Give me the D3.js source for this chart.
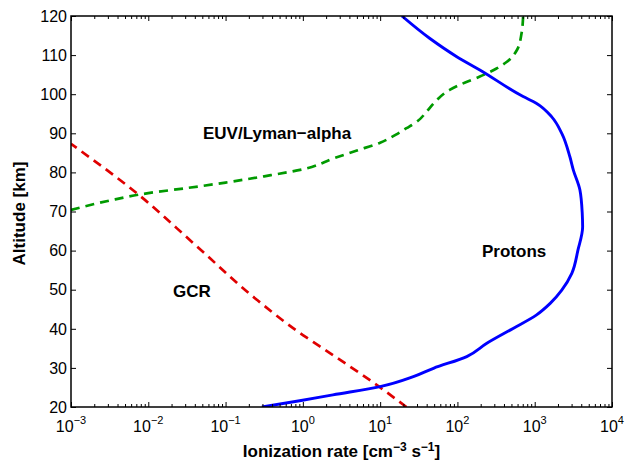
<!DOCTYPE html>
<html>
<head>
<meta charset="utf-8">
<script src="https://cdn.jsdelivr.net/npm/d3@7"></script>
<style>
  body { margin: 0; background: #fff; }
  text { font-family: "Liberation Sans", Arial, sans-serif; fill: #000; }
  .tickLabel { font-size: 16px; }
  .aText { font-size: 17px; font-weight: bold; }
  .curveLabel { font-size: 17px; font-weight: bold; }
</style>
</head>
<body>
<div id="chart"></div>
<script>
// Data: ionization rate (cm^-3 s^-1) vs altitude (km)
var protonRate = [0.295, 0.91, 2.45, 10, 26.9, 49, 132, 240, 525, 1047, 1585, 2239, 3020, 3631, 4169, 4121, 3846, 3162, 2851, 2239, 1660, 1047, 708, 195, 98, 43.6, 19.1];
var protonAlt  = [20, 21.6, 23.1, 25.2, 27.75, 29.9, 32.9, 36.3, 40.1, 43.5, 46.5, 49.9, 54.2, 60.2, 66.1, 69.5, 75.5, 80.6, 84.0, 90.0, 94.2, 97.7, 99.4, 106.2, 109.6, 114.3, 120];

var euvRate = [0.001, 0.00316, 0.01, 0.0316, 0.1, 0.316, 1, 2.51, 5.01, 10, 15.8, 21.9, 30.9, 39.8, 50.1, 79.4, 126, 195, 316, 437, 589, 676, 708];
var euvAlt  = [70.4, 72.8, 74.7, 76.0, 77.4, 79.0, 80.8, 83.6, 85.6, 87.6, 89.6, 91.3, 93.2, 95.5, 97.8, 101.1, 103.0, 104.5, 106.5, 108.3, 111.3, 115.6, 120];

var gcrRate = [0.001, 0.00708, 0.0398, 0.251, 1, 1.66, 10, 21.9];
var gcrAlt  = [87.3, 74.7, 61.6, 47.5, 38.4, 35.5, 25.0, 20];

var xTickExp = [-3, -2, -1, 0, 1, 2, 3, 4];
var yTicks = [20, 30, 40, 50, 60, 70, 80, 90, 100, 110, 120];

// Set graph size
var svgWidth = 625;
var svgHeight = 462;

var margin = { top: 16, right: 13, bottom: 55, left: 71 };
var width = svgWidth - margin.left - margin.right;
var height = svgHeight - margin.top - margin.bottom;

var svg = d3.select("#chart")
    .append("svg")
    .attr("width", svgWidth)
    .attr("height", svgHeight);

var chartGroup = svg.append("g")
    .attr("transform", `translate(${margin.left}, ${margin.top})`);

// Scales
var xScale = d3.scaleLog().domain([1e-3, 1e4]).range([0, width]);
var yScale = d3.scaleLinear().domain([20, 120]).range([height, 0]);

var majorTicks = xTickExp.map(e => Math.pow(10, e));
var minorTicks = [];
xTickExp.slice(0, -1).forEach(function(e) {
    for (var k = 2; k <= 9; k++) minorTicks.push(k * Math.pow(10, e));
});

// Clip so lines stay inside the box
chartGroup.append("clipPath").attr("id", "clip")
    .append("rect").attr("width", width).attr("height", height);

// Curves (each one is monotone in altitude)
var line = d3.line()
    .x(d => xScale(d[0]))
    .y(d => yScale(d[1]))
    .curve(d3.curveMonotoneY);

var lines = chartGroup.append("g").attr("clip-path", "url(#clip)");

lines.append("path")
    .datum(gcrRate.map((r, i) => [r, gcrAlt[i]]).reverse())
    .attr("fill", "none")
    .attr("stroke", "#e00000")
    .attr("stroke-width", 2.7)
    .attr("stroke-dasharray", "9,6")
    .attr("d", line);

lines.append("path")
    .datum(euvRate.map((r, i) => [r, euvAlt[i]]))
    .attr("fill", "none")
    .attr("stroke", "#009a00")
    .attr("stroke-width", 2.7)
    .attr("stroke-dasharray", "9,6")
    .attr("d", line);

lines.append("path")
    .datum(protonRate.map((r, i) => [r, protonAlt[i]]))
    .attr("fill", "none")
    .attr("stroke", "#0000ff")
    .attr("stroke-width", 2.9)
    .attr("d", line);

// Axes (ticks point inward)
function styleAxis(g) {
    g.select(".domain").remove();
    g.selectAll(".tick line").attr("stroke", "#000").attr("stroke-width", 1);
    g.selectAll(".tick text").remove();
}

chartGroup.append("g")
    .attr("transform", `translate(0, ${height})`)
    .call(d3.axisBottom(xScale).tickValues(majorTicks).tickSize(-5))
    .call(styleAxis);
chartGroup.append("g")
    .attr("transform", `translate(0, ${height})`)
    .call(d3.axisBottom(xScale).tickValues(minorTicks).tickSize(-3))
    .call(styleAxis);
chartGroup.append("g")
    .call(d3.axisTop(xScale).tickValues(majorTicks).tickSize(-5))
    .call(styleAxis);
chartGroup.append("g")
    .call(d3.axisTop(xScale).tickValues(minorTicks).tickSize(-3))
    .call(styleAxis);
chartGroup.append("g")
    .call(d3.axisLeft(yScale).tickValues(yTicks).tickSize(-5))
    .call(styleAxis);
chartGroup.append("g")
    .attr("transform", `translate(${width}, 0)`)
    .call(d3.axisRight(yScale).tickValues(yTicks).tickSize(-5))
    .call(styleAxis);

// Box
chartGroup.append("rect")
    .attr("width", width)
    .attr("height", height)
    .attr("fill", "none")
    .attr("stroke", "#000")
    .attr("stroke-width", 1.5);

// Tick labels
chartGroup.selectAll(".yLabel")
    .data(yTicks)
    .enter()
    .append("text")
    .attr("class", "tickLabel")
    .attr("x", -4)
    .attr("y", d => yScale(d))
    .attr("dy", "0.36em")
    .attr("text-anchor", "end")
    .text(d => d);

var xLabels = chartGroup.selectAll(".xLabel")
    .data(xTickExp)
    .enter()
    .append("text")
    .attr("class", "tickLabel")
    .attr("x", d => xScale(Math.pow(10, d)))
    .attr("y", height + 25)
    .attr("text-anchor", "middle");
xLabels.append("tspan").text("10");
xLabels.append("tspan")
    .attr("dy", -8)
    .style("font-size", "11px")
    .text(d => d < 0 ? "\u2212" + (-d) : d);

// Curve labels
chartGroup.append("text").attr("class", "curveLabel")
    .attr("x", 132).attr("y", 123).text("EUV/Lyman\u2212alpha");
chartGroup.append("text").attr("class", "curveLabel")
    .attr("x", 102).attr("y", 281).text("GCR");
chartGroup.append("text").attr("class", "curveLabel")
    .attr("x", 411).attr("y", 241).text("Protons");

// Axis titles
svg.append("text")
    .attr("class", "aText")
    .attr("transform", `translate(25, ${margin.top + height / 2 + 2}) rotate(-90)`)
    .attr("text-anchor", "middle")
    .text("Altitude [km]");

var xTitle = svg.append("text")
    .attr("class", "aText")
    .attr("x", margin.left + width / 2)
    .attr("y", 457)
    .attr("text-anchor", "middle");
xTitle.append("tspan").text("Ionization rate [cm");
xTitle.append("tspan").attr("dy", -6).style("font-size", "12px").text("\u22123");
xTitle.append("tspan").attr("dy", 6).text(" s");
xTitle.append("tspan").attr("dy", -6).style("font-size", "12px").text("\u22121");
xTitle.append("tspan").attr("dy", 6).text("]");
</script>
</body>
</html>
